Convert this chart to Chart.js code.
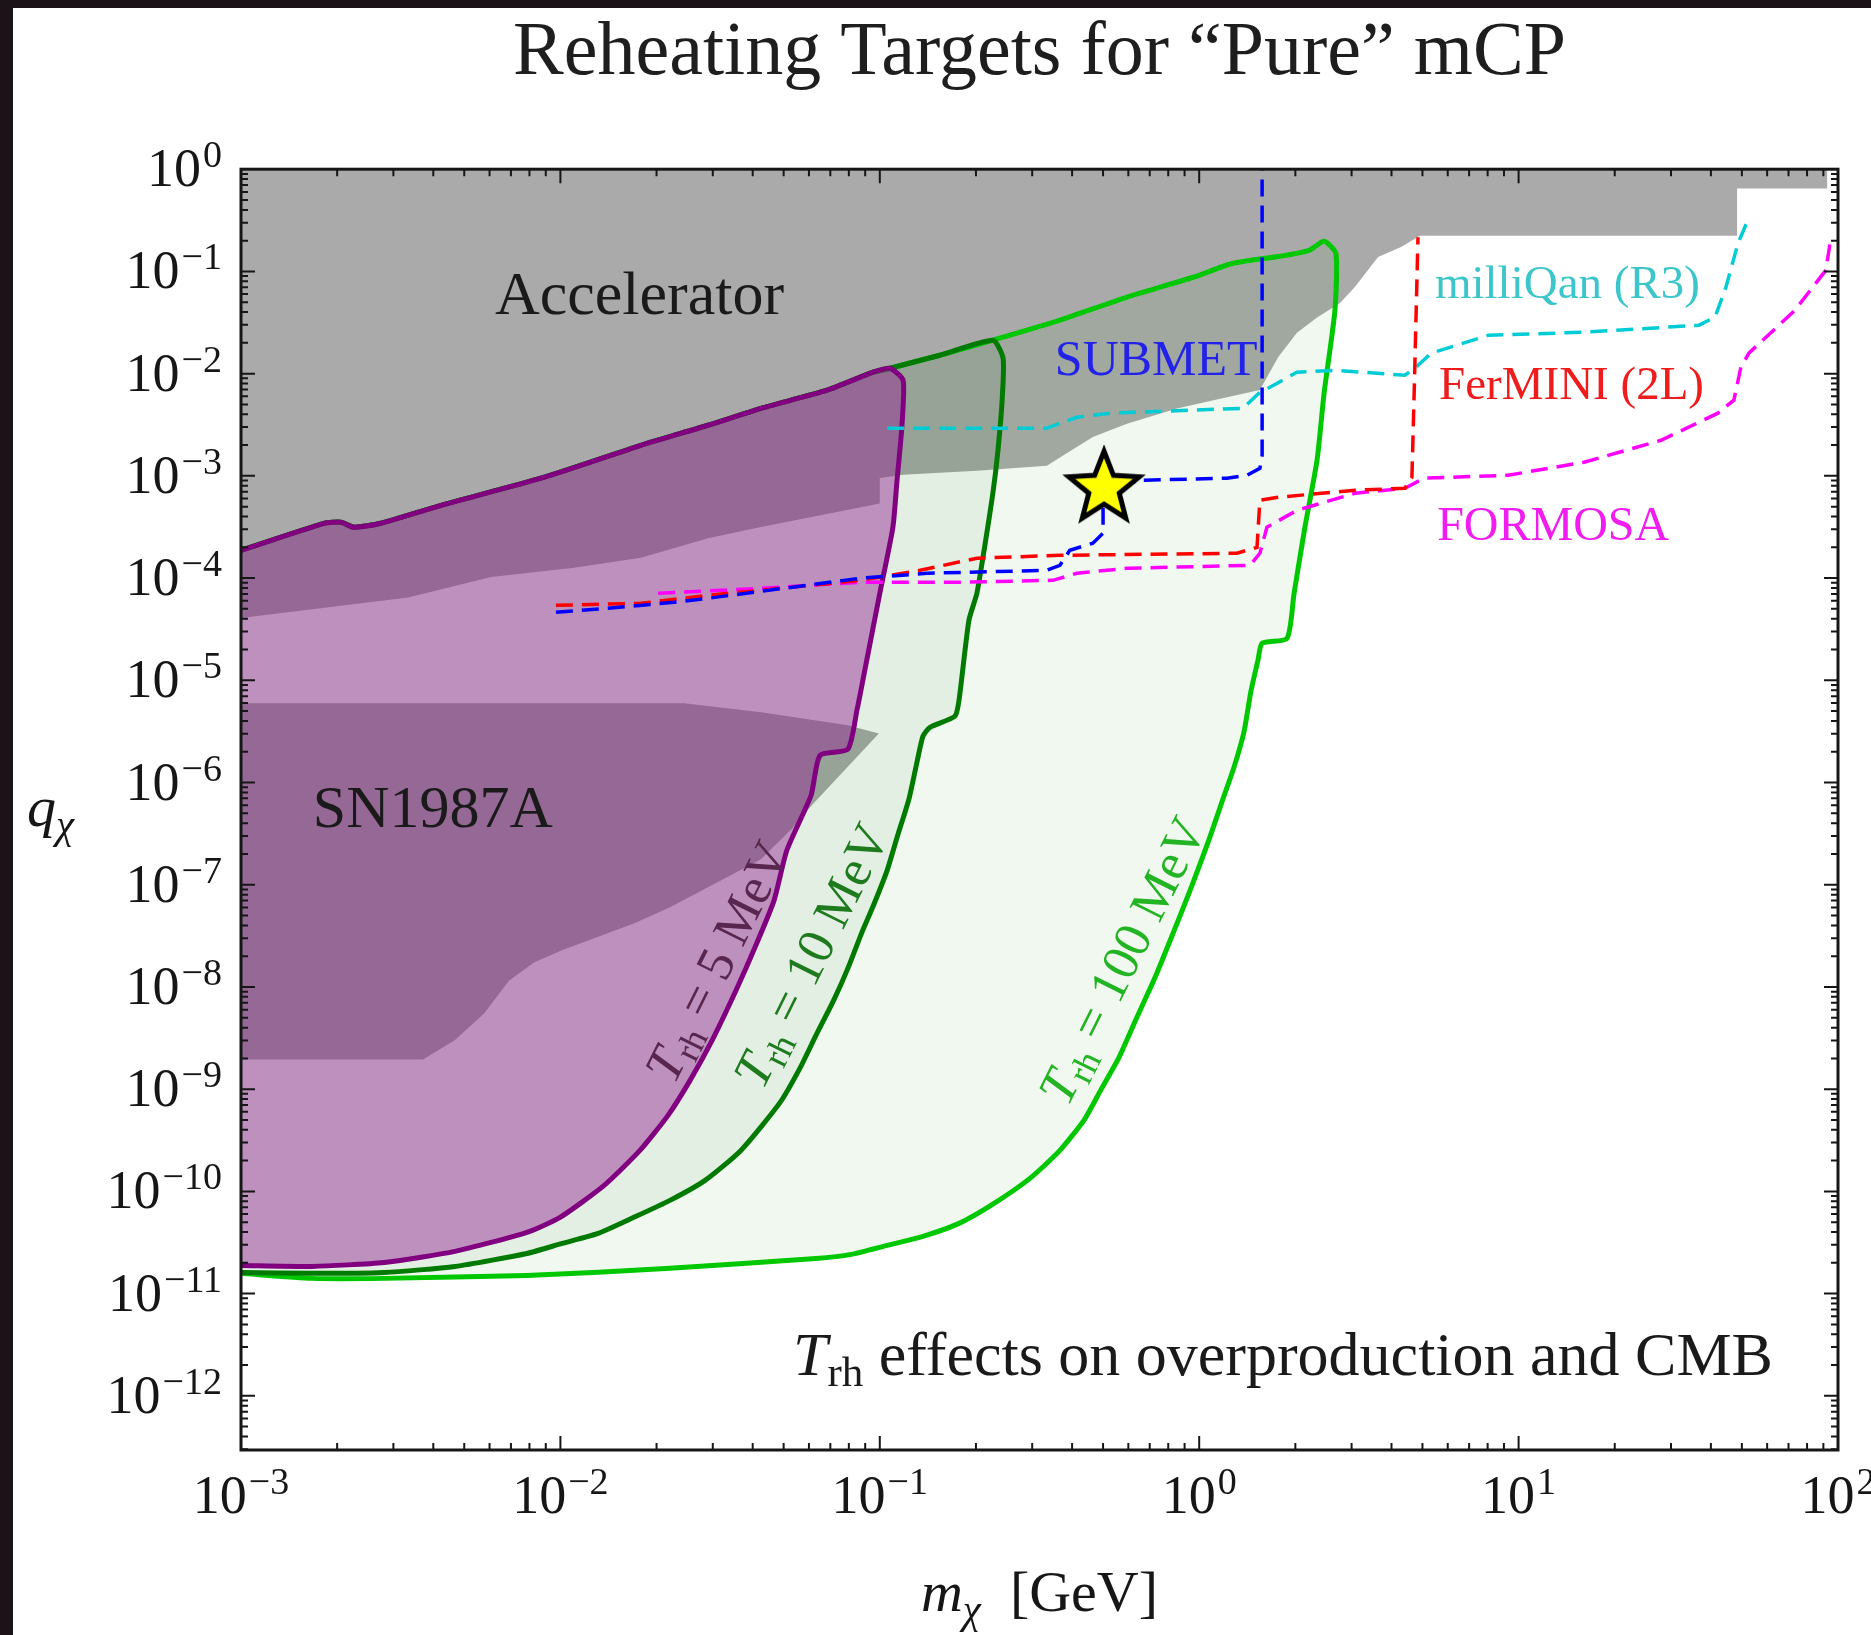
<!DOCTYPE html>
<html>
<head>
<meta charset="utf-8">
<title>Reheating Targets for “Pure” mCP</title>
<script src="https://cdn.jsdelivr.net/npm/chart.js@4.4.1/dist/chart.umd.min.js"></script>
<style>
  html, body { margin: 0; padding: 0; background: #1b1317; }
  body { width: 1871px; height: 1635px; overflow: hidden; position: relative; }
  #panel { position: absolute; left: 13px; top: 8px; width: 1858px; height: 1627px; background: #fff; }
  canvas { display: block; }
</style>
</head>
<body>
<div id="panel"><canvas id="reheat" width="1858" height="1627"></canvas></div>
<script>
// ---------------- DATA ----------------
// every pair is [log10(m_chi / GeV), log10(q_chi)]

// lower edge of the accelerator exclusion (region above it is excluded)
const accelEdge = [
  [-3.000, -4.39], [-2.477, -4.19], [-2.217, -3.99], [-1.957, -3.90], [-1.748, -3.80],
  [-1.538, -3.61], [-1.372, -3.50], [-1.000, -3.27], [-1.000, -3.02], [-0.927, -2.99],
  [-0.696, -2.95], [-0.477, -2.90], [-0.436, -2.82], [-0.333, -2.62], [-0.226, -2.49],
  [-0.070, -2.34], [0.087, -2.23], [0.190, -2.16], [0.247, -1.84], [0.306, -1.60],
  [0.369, -1.45], [0.441, -1.31], [0.488, -1.15], [0.560, -0.86], [0.632, -0.76],
  [0.691, -0.65], [1.684, -0.65], [1.684, -0.19], [1.966, -0.19], [1.966, 0.2], [-3.000, 0.2]
];

// SN1987A cooling bound
const sn1987aRegion = [
  [-3.000, -5.225], [-1.613, -5.225], [-1.372, -5.313], [-1.100, -5.44], [-1.003, -5.52],
  [-1.212, -6.22], [-1.275, -6.45], [-1.372, -6.75], [-1.657, -7.22], [-1.770, -7.38],
  [-1.882, -7.51], [-1.995, -7.64], [-2.083, -7.76], [-2.161, -7.94], [-2.239, -8.26],
  [-2.330, -8.52], [-2.430, -8.71], [-3.000, -8.71]
];

// upper edge shared by all three reheating contours
const trh5Top = [
  [-3.000, -3.728], [-2.740, -3.464], [-2.687, -3.454], [-2.646, -3.503], [-2.562, -3.464],
  [-2.374, -3.288], [-2.061, -3.023], [-1.748, -2.701], [-1.538, -2.505], [-1.372, -2.339],
  [-1.165, -2.162], [-1.021, -1.986], [-0.968, -1.947]
];

// T_rh = 5 MeV: right side and bottom
const trh5Edge = [
  [-0.927, -2.065], [-0.931, -2.524], [-0.946, -3.043], [-0.959, -3.503], [-1.000, -4.149],
  [-1.053, -5.000], [-1.071, -5.284], [-1.100, -5.675], [-1.187, -5.734], [-1.215, -6.125],
  [-1.291, -6.663], [-1.331, -7.153], [-1.388, -7.593], [-1.450, -8.033], [-1.525, -8.523],
  [-1.594, -8.914], [-1.663, -9.256], [-1.751, -9.599], [-1.863, -9.941], [-2.001, -10.254],
  [-2.105, -10.401], [-2.330, -10.587], [-2.552, -10.695], [-2.778, -10.734], [-3.000, -10.724]
];

// T_rh = 10 MeV: top shoulder, then right side and bottom
const trh10Shoulder = [[-0.812, -1.820], [-0.646, -1.673]];
const trh10Edge = [
  [-0.614, -1.849], [-0.617, -2.260], [-0.630, -2.750], [-0.646, -3.170], [-0.671, -3.679],
  [-0.696, -4.149], [-0.721, -4.413], [-0.752, -5.196], [-0.765, -5.352], [-0.843, -5.460],
  [-0.865, -5.548], [-0.887, -5.851], [-0.909, -6.164], [-0.943, -6.507], [-0.977, -6.859],
  [-1.021, -7.211], [-1.056, -7.466], [-1.100, -7.818], [-1.143, -8.121], [-1.200, -8.474],
  [-1.247, -8.777], [-1.312, -9.129], [-1.435, -9.599], [-1.547, -9.892], [-1.657, -10.088],
  [-1.770, -10.254], [-1.882, -10.411], [-1.995, -10.509], [-2.105, -10.607], [-2.330, -10.734],
  [-2.552, -10.793], [-2.778, -10.802], [-3.000, -10.793]
];

// T_rh = 100 MeV: continuation past the 10 MeV shoulder
const trh100Edge = [
  [-0.436, -1.477], [-0.226, -1.252], [-0.019, -1.057], [0.106, -0.920], [0.253, -0.851],
  [0.344, -0.793], [0.391, -0.705], [0.428, -0.822], [0.425, -1.380], [0.391, -2.192],
  [0.369, -2.847], [0.331, -3.503], [0.297, -4.149], [0.275, -4.589], [0.197, -4.638],
  [0.184, -4.804], [0.162, -5.108], [0.140, -5.509], [0.109, -5.851], [0.074, -6.164],
  [0.031, -6.556], [-0.026, -7.035], [-0.082, -7.476], [-0.138, -7.906], [-0.195, -8.297],
  [-0.251, -8.689], [-0.307, -9.002], [-0.361, -9.305], [-0.439, -9.609], [-0.530, -9.873],
  [-0.642, -10.117], [-0.752, -10.313], [-0.865, -10.440], [-0.977, -10.528], [-1.090, -10.616],
  [-1.200, -10.656], [-1.657, -10.753], [-2.105, -10.822], [-2.552, -10.851], [-2.778, -10.851],
  [-3.000, -10.802]
];

// projected sensitivities
const submetReach = [
  [-2.014, -4.335], [-1.851, -4.295], [-1.644, -4.237], [-1.538, -4.198], [-1.372, -4.129],
  [-1.062, -4.002], [-0.852, -3.953], [-0.477, -3.924], [-0.436, -3.875], [-0.405, -3.728],
  [-0.333, -3.659], [-0.301, -3.562], [-0.301, -3.121], [-0.176, -3.043], [0.087, -3.023],
  [0.150, -2.994], [0.190, -2.926], [0.197, -2.798], [0.197, 0.0]
];
const ferminiReach = [
  [-2.014, -4.266], [-1.748, -4.247], [-1.538, -4.168], [-1.372, -4.119], [-1.062, -4.022],
  [-0.874, -3.924], [-0.696, -3.806], [-0.436, -3.777], [0.118, -3.757], [0.181, -3.699],
  [0.190, -3.239], [0.247, -3.209], [0.488, -3.141], [0.644, -3.121], [0.666, -3.014],
  [0.673, -2.192], [0.685, -0.665]
];
const formosaReach = [
  [-1.694, -4.149], [-1.372, -4.100], [-1.062, -4.041], [-0.749, -4.041], [-0.458, -4.022],
  [-0.383, -3.953], [-0.226, -3.904], [0.159, -3.875], [0.190, -3.757], [0.212, -3.503],
  [0.306, -3.337], [0.488, -3.170], [0.644, -3.121], [0.704, -3.023], [0.967, -2.994],
  [1.205, -2.867], [1.446, -2.652], [1.624, -2.387], [1.674, -2.260], [1.696, -1.937],
  [1.721, -1.800], [1.865, -1.380], [1.962, -0.988], [1.978, -0.665]
];
const milliqanReach = [
  [-0.977, -2.534], [-0.477, -2.534], [-0.383, -2.427], [-0.279, -2.387], [0.137, -2.339],
  [0.187, -2.192], [0.306, -1.986], [0.428, -1.967], [0.644, -2.016], [0.679, -1.937],
  [0.726, -1.800], [0.907, -1.624], [1.205, -1.595], [1.565, -1.526], [1.615, -1.448],
  [1.649, -1.155], [1.687, -0.724], [1.715, -0.519]
];

// benchmark point
const benchmarkStar = [[-0.298, -3.121]];

// decade tick labels (10^n)
const xTickExps = [-3, -2, -1, 0, 1, 2];
const yTickExps = [0, -1, -2, -3, -4, -5, -6, -7, -8, -9, -10, -11, -12];

// ---------------- HELPERS ----------------
const SERIF = '"Liberation Serif", "Times New Roman", serif';
const toPoints = pairs => pairs.map(([m, q]) => ({ x: 10 ** m, y: 10 ** q }));
const fontOf = p => `${p.italic ? 'italic ' : ''}${p.size}px ${SERIF}`;

function partsWidth(ctx, parts) {
  return parts.reduce((w, p) => { ctx.font = fontOf(p); return w + ctx.measureText(p.t).width; }, 0);
}
function drawParts(ctx, parts, x, y) {
  let cx = x;
  for (const p of parts) {
    ctx.font = fontOf(p);
    ctx.fillText(p.t, cx, y + (p.dy || 0));
    cx += ctx.measureText(p.t).width;
  }
}

function makeStar(rOuter, rInner, lw) {
  const c = document.createElement('canvas');
  const s = Math.ceil(2 * (rOuter + lw)) + 2;
  c.width = c.height = s;
  const g = c.getContext('2d');
  g.translate(s / 2, s / 2);
  g.beginPath();
  for (let i = 0; i < 10; i++) {
    const r = i % 2 ? rInner : rOuter;
    const a = -Math.PI / 2 + i * Math.PI / 5;
    g.lineTo(r * Math.cos(a), r * Math.sin(a));
  }
  g.closePath();
  g.fillStyle = '#ffff00';
  g.fill();
  g.lineWidth = lw;
  g.lineJoin = 'miter';
  g.strokeStyle = '#000';
  g.stroke();
  return c;
}

const region = (label, pairs, fillColor, line, order, tension = 0) => ({
  label, data: toPoints(pairs), showLine: true, fill: 'shape',
  backgroundColor: fillColor,
  borderColor: line ? line.color : 'rgba(0,0,0,0)',
  borderWidth: line ? line.width : 0,
  borderJoinStyle: 'round',
  tension,
  pointRadius: 0, order
});
const reach = (label, pairs, color, order) => ({
  label, data: toPoints(pairs), showLine: true, fill: false,
  borderColor: color, borderWidth: 3.5, borderDash: [17, 9],
  pointRadius: 0, order
});

// ---------------- TEXT ON THE PLOT ----------------
const textMarks = [
  { at: [-2.205, -1.419], color: '#1a1a1a', parts: [{ t: 'Accelerator', size: 62 }] },
  { at: [-2.775, -6.438], color: '#1a1a1a', parts: [{ t: 'SN1987A', size: 60 }] },
  { at: [-0.452, -2.016], color: '#2222e8', parts: [{ t: 'SUBMET', size: 50 }] },
  { at: [0.738, -1.262], color: '#3cc6cc', parts: [{ t: 'milliQan (R3)', size: 47 }] },
  { at: [0.751, -2.250], color: '#ee1c1c', parts: [{ t: 'FerMINI (2L)', size: 47 }] },
  { at: [0.745, -3.630], color: '#f01cf0', parts: [{ t: 'FORMOSA', size: 48 }] },
  { at: [-1.272, -11.80], color: '#1a1a1a', parts: [
    { t: 'T', size: 62, italic: true }, { t: 'rh', size: 43, dy: 11 },
    { t: ' effects on overproduction and CMB', size: 62 }] },
  { at: [-1.510, -7.750], rotate: -63.5, color: '#58264f', parts: [
    { t: 'T', size: 52, italic: true }, { t: 'rh', size: 36, dy: 9 }, { t: ' = 5 MeV', size: 52 }] },
  { at: [-1.215, -7.691], rotate: -63.5, color: '#1d7a1d', parts: [
    { t: 'T', size: 52, italic: true }, { t: 'rh', size: 36, dy: 9 }, { t: ' = 10 MeV', size: 52 }] },
  { at: [-0.242, -7.740], rotate: -63.5, color: '#22b422', parts: [
    { t: 'T', size: 52, italic: true }, { t: 'rh', size: 36, dy: 9 }, { t: ' = 100 MeV', size: 52 }] }
];

const plotText = {
  id: 'plotText',
  afterDatasetsDraw(chart) {
    const { ctx } = chart;
    const xs = chart.scales.x, ys = chart.scales.y;
    ctx.save();
    ctx.textBaseline = 'alphabetic';
    ctx.textAlign = 'left';
    for (const m of textMarks) {
      const px = xs.getPixelForValue(10 ** m.at[0]);
      const py = ys.getPixelForValue(10 ** m.at[1]);
      ctx.fillStyle = m.color;
      if (m.rotate) {
        const size = m.parts[0].size;
        const w = partsWidth(ctx, m.parts);
        ctx.save();
        ctx.translate(px, py);
        ctx.rotate(m.rotate * Math.PI / 180);
        drawParts(ctx, m.parts, -w / 2, size * 0.33);
        ctx.restore();
      } else {
        drawParts(ctx, m.parts, px, py);
      }
    }
    ctx.restore();
  }
};

// ---------------- FRAME, TICKS, AXIS LABELS ----------------
const expText = e => (e < 0 ? '\u2212' + (-e) : String(e));

function drawPower(ctx, e, x, y, align) {
  ctx.font = `54px ${SERIF}`;
  const wb = ctx.measureText('10').width;
  ctx.font = `38px ${SERIF}`;
  const we = ctx.measureText(expText(e)).width;
  const total = wb + 2 + we;
  const left = align === 'right' ? x - total : x - total / 2;
  ctx.font = `54px ${SERIF}`;
  ctx.fillText('10', left, y);
  ctx.font = `38px ${SERIF}`;
  ctx.fillText(expText(e), left + wb + 2, y - 19);
}

const frameTicks = {
  id: 'frameTicks',
  afterDraw(chart) {
    const { ctx, chartArea: a } = chart;
    const xs = chart.scales.x, ys = chart.scales.y;
    ctx.save();
    ctx.strokeStyle = '#161616';
    ctx.lineWidth = 2;
    ctx.beginPath();
    for (let e = xTickExps[0]; e < xTickExps[xTickExps.length - 1]; e++) {
      for (let k = 1; k < 10; k++) {
        const px = xs.getPixelForValue(k * 10 ** e);
        const len = k === 1 ? 14 : 7;
        ctx.moveTo(px, a.bottom); ctx.lineTo(px, a.bottom - len);
        ctx.moveTo(px, a.top); ctx.lineTo(px, a.top + len);
      }
    }
    for (let e = yTickExps[yTickExps.length - 1] - 1; e < yTickExps[0]; e++) {
      for (let k = 1; k < 10; k++) {
        const v = k * 10 ** e;
        if (v < ys.min) continue;
        const py = ys.getPixelForValue(v);
        const len = k === 1 ? 14 : 7;
        ctx.moveTo(a.left, py); ctx.lineTo(a.left + len, py);
        ctx.moveTo(a.right, py); ctx.lineTo(a.right - len, py);
      }
    }
    ctx.stroke();
    ctx.lineWidth = 3;
    ctx.strokeRect(a.left, a.top, a.right - a.left, a.bottom - a.top);

    // decade labels
    ctx.fillStyle = '#161616';
    ctx.textAlign = 'left';
    ctx.textBaseline = 'alphabetic';
    for (const e of xTickExps) {
      drawPower(ctx, e, xs.getPixelForValue(10 ** e), a.bottom + 63, 'center');
    }
    for (const e of yTickExps) {
      drawPower(ctx, e, a.left - 19, ys.getPixelForValue(10 ** e) + 17, 'right');
    }

    // axis titles
    const mx = [
      { t: 'm', size: 58, italic: true }, { t: '\u03c7', size: 41, italic: true, dy: 12 },
      { t: '  [GeV]', size: 58 }
    ];
    const mw = partsWidth(ctx, mx);
    drawParts(ctx, mx, (a.left + a.right) / 2 - mw / 2, a.bottom + 161);
    const qx = [{ t: 'q', size: 58, italic: true }, { t: '\u03c7', size: 41, italic: true, dy: 12 }];
    drawParts(ctx, qx, 14, (a.top + a.bottom) / 2 + 16);
    ctx.restore();
  }
};

// ---------------- CHART ----------------
const starImg = makeStar(37, 16, 5);

new Chart(document.getElementById('reheat'), {
  type: 'scatter',
  data: {
    datasets: [
      region('Accelerator', accelEdge, '#aaaaaa', null, 20),
      region('SN1987A', sn1987aRegion, '#aaaaaa', null, 19),
      region('T_rh = 100 MeV', trh5Top.concat(trh10Shoulder, trh100Edge),
        'rgba(0,136,0,0.059)', { color: '#00c800', width: 5 }, 18, 0.2),
      region('T_rh = 10 MeV', trh5Top.concat(trh10Shoulder, trh10Edge),
        'rgba(0,100,0,0.054)', { color: '#007a00', width: 5 }, 17, 0.2),
      region('T_rh = 5 MeV', trh5Top.concat(trh5Edge),
        'rgba(147,40,147,0.48)', { color: '#800080', width: 5 }, 16, 0.2),
      reach('milliQan (R3)', milliqanReach, '#00ccd6', 6),
      reach('FORMOSA', formosaReach, '#ff00ff', 5),
      reach('FerMINI (2L)', ferminiReach, '#ff0000', 4),
      reach('SUBMET', submetReach, '#0000ff', 3),
      {
        label: 'benchmark', data: toPoints(benchmarkStar), showLine: false,
        pointStyle: starImg, pointRadius: 40, order: 1
      }
    ]
  },
  options: {
    responsive: false,
    animation: false,
    devicePixelRatio: 1,
    events: [],
    layout: { autoPadding: false, padding: { left: 228, right: 33, top: 0, bottom: 185 } },
    plugins: {
      legend: { display: false },
      tooltip: { enabled: false },
      title: {
        display: true,
        fullSize: false,
        text: 'Reheating Targets for \u201cPure\u201d mCP',
        color: '#1e1e1e',
        font: { family: SERIF, size: 76, weight: 'normal', lineHeight: 1.2 },
        padding: { top: 0, bottom: 70 }
      }
    },
    scales: {
      x: {
        type: 'logarithmic', min: 1e-3, max: 1e2,
        ticks: { display: false }, grid: { display: false, drawTicks: false },
        border: { display: false },
        afterFit: s => { s.height = 0; }
      },
      y: {
        type: 'logarithmic', min: 10 ** -12.53, max: 1,
        ticks: { display: false }, grid: { display: false, drawTicks: false },
        border: { display: false },
        afterFit: s => { s.width = 0; }
      }
    }
  },
  plugins: [plotText, frameTicks]
});
</script>
</body>
</html>
